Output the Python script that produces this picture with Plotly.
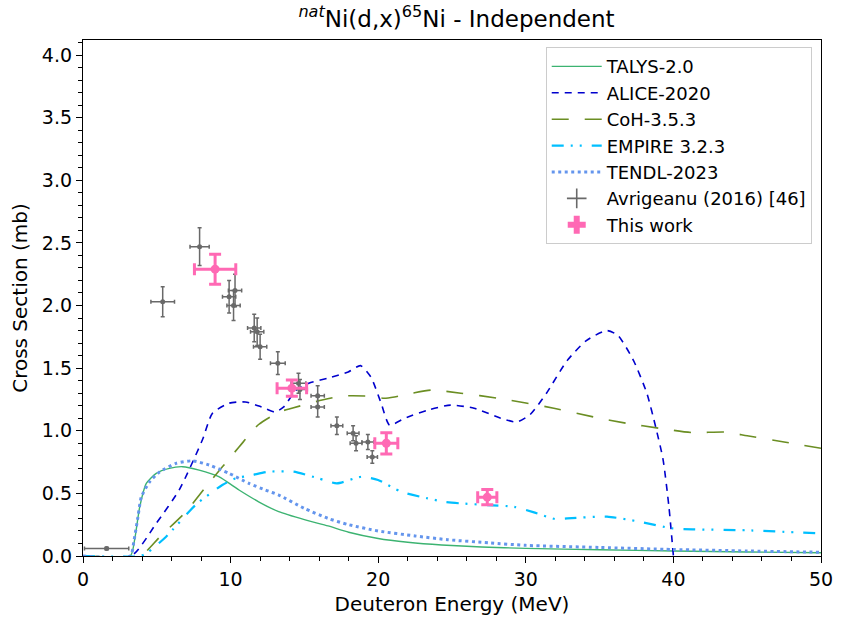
import plotly.graph_objects as go

# Model calculations: deuteron energy (MeV) and cross section (mb)
talys_e = [0, 3.2, 3.5, 3.84, 4.29, 4.96, 5.85, 6.75, 7.87, 9.2, 10.57, 11.9, 13.26, 15.0, 16.6,
           18.0, 20.0, 22.0, 24.3, 27.0, 30.0, 35.0, 40.0, 45.0, 50.0]
talys_xs = [0, 0, 0.13, 0.39, 0.58, 0.66, 0.70, 0.713, 0.686, 0.633, 0.527, 0.433, 0.354, 0.29, 0.24,
            0.19, 0.14, 0.11, 0.088, 0.072, 0.061, 0.05, 0.04, 0.032, 0.026]

alice_e = [0, 3.27, 4.96, 6.53, 8.1, 8.77, 9.89, 11.0, 12.1, 13.0, 13.6, 14.4, 15.3, 16.6, 17.97,
           18.8, 19.5, 20.2, 20.77, 21.8, 23.35, 24.9, 26.5, 28.3, 29.4, 30.3, 31.4, 32.8, 34.1,
           35.5, 36.25, 37.3, 38.2, 38.8, 39.3, 39.7, 40.0]
alice_xs = [0, 0, 0.26, 0.53, 0.93, 1.14, 1.22, 1.23, 1.19, 1.15, 1.19, 1.32, 1.38, 1.42, 1.47,
            1.52, 1.43, 1.22, 1.045, 1.10, 1.165, 1.205, 1.18, 1.10, 1.07, 1.13, 1.30, 1.56, 1.72,
            1.80, 1.76, 1.56, 1.30, 1.03, 0.77, 0.39, 0.0]

coh_e = [0, 3.9, 4.4, 5.18, 6.98, 8.3, 10.57, 11.9, 13.3, 14.15, 16.2, 17.5, 19.1, 20.4, 21.1,
         22.3, 23.6, 25.6, 28.1, 31.9, 34.6, 36.8, 39.05, 41.3, 43.5, 45.0, 47.5, 50.0]
coh_xs = [0, 0, 0.05, 0.15, 0.354, 0.55, 0.87, 1.05, 1.15, 1.18, 1.245, 1.277, 1.277, 1.26, 1.27,
          1.30, 1.325, 1.30, 1.26, 1.18, 1.11, 1.06, 1.02, 0.985, 0.99, 0.96, 0.91, 0.86]

empire_e = [0, 3.9, 4.4, 5.63, 7.65, 9.44, 10.34, 11.46, 12.58, 14.27, 15.95, 17.2, 18.86, 19.99,
            21.55, 23.35, 24.47, 25.6, 27.4, 29.2, 30.5, 32.0, 32.8, 35.5, 37.7, 39.95, 41.3, 45.0, 50.0]
empire_xs = [0, 0, 0.03, 0.154, 0.41, 0.567, 0.62, 0.646, 0.673, 0.673, 0.62, 0.58, 0.633, 0.607,
             0.513, 0.46, 0.433, 0.42, 0.407, 0.393, 0.35, 0.295, 0.30, 0.314, 0.274, 0.22, 0.213, 0.205, 0.18]

tendl_e = [0, 3.2, 3.45, 3.72, 3.95, 4.5, 5.18, 6.3, 7.42, 8.55, 9.9, 11.24, 12.36, 13.26, 15.0,
           16.6, 18.0, 20.0, 22.5, 24.7, 27.5, 30.0, 35.0, 40.0, 45.0, 50.0]
tendl_xs = [0, 0, 0.12, 0.31, 0.47, 0.59, 0.67, 0.74, 0.76, 0.726, 0.66, 0.58, 0.527, 0.487, 0.38,
            0.30, 0.25, 0.20, 0.16, 0.13, 0.105, 0.085, 0.068, 0.052, 0.04, 0.03]

# Avrigeanu (2016) measurements
avr_e = [1.6, 5.4, 7.9, 9.9, 10.3, 10.2, 11.6, 11.8, 12.0, 13.2, 14.6, 14.7, 15.9, 15.9, 17.2,
         18.3, 18.5, 19.3, 19.6]
avr_xs = [0.06, 2.03, 2.47, 2.07, 2.12, 2.00, 1.82, 1.79, 1.67, 1.54, 1.38, 1.33, 1.28, 1.19, 1.04,
          0.98, 0.90, 0.91, 0.79]
avr_de = [1.5, 0.8, 0.65, 0.45, 0.45, 0.45, 0.45, 0.45, 0.45, 0.5, 0.5, 0.5, 0.45, 0.45, 0.4,
          0.4, 0.4, 0.4, 0.35]
avr_dxs = [0.01, 0.12, 0.15, 0.13, 0.13, 0.12, 0.11, 0.11, 0.10, 0.09, 0.08, 0.08, 0.08, 0.08, 0.07,
           0.06, 0.06, 0.06, 0.05]

# This work
tw_e = [8.95, 14.15, 20.55, 27.39]
tw_xs = [2.29, 1.34, 0.90, 0.47]
tw_de = [1.4, 1.0, 0.78, 0.65]
tw_dxs = [0.12, 0.065, 0.085, 0.06]

FONT = "DejaVu Sans"
GRAY = "#696969"
PINK = "#FF69B4"

fig = go.Figure()

curves = [
    ("TALYS-2.0", talys_e, talys_xs, "#3CB371", "solid", 1.4),
    ("ALICE-2020", alice_e, alice_xs, "#0000CD", "7px,6px", 1.6),
    ("CoH-3.5.3", coh_e, coh_xs, "#6B8E23", "17px,16px", 1.6),
    ("EMPIRE 3.2.3", empire_e, empire_xs, "#00BFFF", "12px,7px,2px,7px,2px,10px", 2.2),
    ("TENDL-2023", tendl_e, tendl_xs, "#6495ED", "3px,3.5px", 3.0),
]
for name, x, y, color, dash, width in curves:
    fig.add_trace(go.Scatter(x=x, y=y, mode="lines", name=name,
                             line=dict(color=color, dash=dash, width=width, shape="spline", smoothing=0.6)))

fig.add_trace(go.Scatter(
    x=avr_e, y=avr_xs, mode="markers", showlegend=False,
    marker=dict(color=GRAY, size=5),
    error_x=dict(type="data", array=avr_de, color=GRAY, thickness=1.5, width=2),
    error_y=dict(type="data", array=avr_dxs, color=GRAY, thickness=1.5, width=2),
))
fig.add_trace(go.Scatter(
    x=tw_e, y=tw_xs, mode="markers", showlegend=False,
    marker=dict(color=PINK, size=9),
    error_x=dict(type="data", array=tw_de, color=PINK, thickness=3, width=6),
    error_y=dict(type="data", array=tw_dxs, color=PINK, thickness=3, width=6),
))

# Legend keys for the measured data
fig.add_trace(go.Scatter(x=[None], y=[None], mode="markers", name="Avrigeanu (2016) [46]",
                         marker=dict(symbol="cross-thin", size=14, color=GRAY,
                                     line=dict(color=GRAY, width=1.6))))
fig.add_trace(go.Scatter(x=[None], y=[None], mode="markers", name="This work",
                         marker=dict(symbol="cross", size=15, color=PINK,
                                     line=dict(color=PINK, width=0))))

axis_common = dict(
    showline=True, linecolor="black", linewidth=1.3, mirror=True,
    ticks="outside", ticklen=6, tickwidth=1.2, tickcolor="black",
    showgrid=False, zeroline=False,
    tickfont=dict(family=FONT, size=19, color="black"),
)

fig.update_xaxes(range=[0, 50], dtick=10, tick0=0,
                 minor=dict(dtick=2, ticks="outside", ticklen=3.5, tickwidth=1, tickcolor="black"),
                 title=dict(text="Deuteron Energy (MeV)", font=dict(family=FONT, size=20, color="black"),
                            standoff=8),
                 **axis_common)
fig.update_yaxes(range=[0, 4.12], dtick=0.5, tick0=0, tickformat=".1f",
                 minor=dict(dtick=0.1, ticks="outside", ticklen=3.5, tickwidth=1, tickcolor="black"),
                 title=dict(text="Cross Section (mb)", font=dict(family=FONT, size=20, color="black"),
                            standoff=8),
                 **axis_common)

fig.update_layout(
    width=845, height=625,
    margin=dict(l=83, r=15, t=40, b=69),
    plot_bgcolor="white", paper_bgcolor="white",
    font=dict(family=FONT, color="black"),
    title=dict(text="<sup><i>nat</i></sup>Ni(d,x)<sup>65</sup>Ni - Independent",
               x=(83 + 830) / 2 / 845, xanchor="center", y=0.970, yanchor="middle",
               font=dict(family=FONT, size=23, color="black")),
    legend=dict(x=0.627, y=0.986, xanchor="left", yanchor="top",
                bgcolor="white", bordercolor="#CCCCCC", borderwidth=1,
                font=dict(family=FONT, size=18, color="black"),
                itemwidth=50, tracegroupgap=0),
)

fig.write_html("out.html")
